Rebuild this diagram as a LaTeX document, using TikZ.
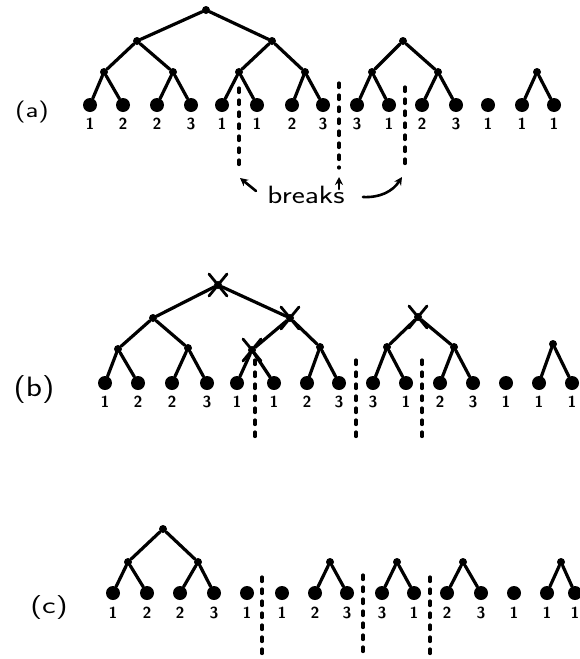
\documentclass[tikz,border=0pt]{standalone}
\usepackage{tikz}
\usetikzlibrary{arrows.meta}

\begin{document}
\begin{tikzpicture}[x=1pt, y=-1pt, line join=round, line cap=round,
	leaf/.style={circle, fill, inner sep=0pt, minimum size=14pt},
	knot/.style={circle, fill, inner sep=0pt, minimum size=8pt},
	branch/.style={line width=3.2pt},
	brk/.style={line width=3.2pt, dash pattern=on 4.5pt off 7.5pt},
	cut/.style={line width=2.8pt},
	arr/.style={line width=2.6pt, -{Stealth[length=8pt, width=8pt]}},
	num/.style={font=\sffamily\bfseries\fontsize{16}{16}\selectfont},
	tag/.style={font=\sffamily\fontsize{20}{20}\selectfont}]
	\useasboundingbox (0,0) rectangle (580,659);
	% (a) cay ban dau
	\node[tag, font=\sffamily\fontsize{22}{22}\selectfont, xscale=1.3] (ta) at (32,112) {(a)};
	\foreach \i/\x/\t in {0/90/1, 1/123/2, 2/157/2, 3/191/3, 4/222/1, 5/257/1, 6/292/2, 7/323/3,
		8/357/3, 9/389/1, 10/422/2, 11/456/3, 12/488/1, 13/522/1, 14/554/1}{
		\node[leaf] (a\i) at (\x,105) {};
		\node[num] (la\i) at (\x,124) {\t};
	}
	\foreach \n/\x/\y in {am0/104/72, am1/173/72, am2/239/72, am3/305/72, am4/372/72, am5/438/72,
		am6/537/72, an0/137/41, an1/272/41, an2/403/41, ar/206/10}
	\node[knot] (\n) at (\x,\y) {};
	\foreach \p/\c in {am0/a0, am0/a1, am1/a2, am1/a3, am2/a4, am2/a5, am3/a6, am3/a7, am4/a8, am4/a9,
		am5/a10, am5/a11, am6/a13, am6/a14, an0/am0, an0/am1, an1/am2, an1/am3, an2/am4, an2/am5,
		ar/an0, ar/an1}
	\draw[branch] (\p) -- (\c);
	% cac cho ngat va nhan "breaks"
	\path (239,88) coordinate (ka1) (239,170) coordinate (kb1)
	(339,83) coordinate (ka2) (339,168) coordinate (kb2)
	(405,87) coordinate (ka3) (405,168) coordinate (kb3);
	\foreach \k in {1,2,3}
	\draw[brk] (ka\k) -- (kb\k);
	\node[font=\sffamily\fontsize{25}{25}\selectfont, xscale=1.25] (word) at (306,195) {breaks};
	\path (256,191) coordinate (w1) (240,178) coordinate (h1)
	(339,189) coordinate (w2) (339,177) coordinate (h2)
	(363,197) coordinate (w3) (402,177) coordinate (h3);
	\draw[arr] (w1) -- (h1);
	\draw[arr] (w2) -- (h2);
	\draw[arr] (w3) to[bend right=30] (h3);
	% (b) cac nut bi cat
	\node[tag, font=\sffamily\fontsize{28}{28}\selectfont, xscale=1.2] (tb) at (34,390) {(b)};
	\foreach \i/\x/\t in {0/105/1, 1/138/2, 2/172/2, 3/207/3, 4/237/1, 5/274/1, 6/307/2, 7/339/3,
		8/373/3, 9/406/1, 10/440/2, 11/473/3, 12/506/1, 13/539/1, 14/572/1}{
		\node[leaf] (b\i) at (\x,383) {};
		\node[num] (lb\i) at (\x,402) {\t};
	}
	\foreach \n/\x/\y in {bm0/118/349, bm1/188/348, bm2/252/350, bm3/320/347, bm4/387/347, bm5/454/347,
		bm6/553/344, bn0/153/318, bn1/290/318, bn2/418/317, br/218/285}
	\node[knot] (\n) at (\x,\y) {};
	\foreach \p/\c in {bm0/b0, bm0/b1, bm1/b2, bm1/b3, bm2/b4, bm2/b5, bm3/b6, bm3/b7, bm4/b8, bm4/b9,
		bm5/b10, bm5/b11, bm6/b13, bm6/b14, bn0/bm0, bn0/bm1, bn1/bm2, bn1/bm3, bn2/bm4, bn2/bm5,
		br/bn0, br/bn1}
	\draw[branch] (\p) -- (\c);
	\foreach \n in {br, bn1, bm2, bn2}
	\draw[cut] ([shift={(-9,-11)}]\n.center) -- ([shift={(9,11)}]\n.center)
	([shift={(9,-11)}]\n.center) -- ([shift={(-9,11)}]\n.center);
	\path (255,360) coordinate (ma1) (255,443) coordinate (mb1)
	(356,360) coordinate (ma2) (356,442) coordinate (mb2)
	(422,360) coordinate (ma3) (422,440) coordinate (mb3);
	\foreach \k in {1,2,3}
	\draw[brk] (ma\k) -- (mb\k);
	% (c) ket qua sau khi cat
	\node[tag, font=\sffamily\fontsize{24}{24}\selectfont, xscale=1.35] (tc) at (49,608) {(c)};
	\foreach \i/\x/\t in {0/113/1, 1/147/2, 2/180/2, 3/214/3, 4/247/1, 5/282/1, 6/315/2, 7/347/3,
		8/382/3, 9/414/1, 10/447/2, 11/481/3, 12/514/1, 13/547/1, 14/575/1}{
		\node[leaf] (c\i) at (\x,593) {};
		\node[num] (lc\i) at (\x,613) {\t};
	}
	\foreach \n/\x/\y in {cm0/128/562, cm1/198/562, cm2/330/562, cm3/397/562, cm4/463/562,
		cm5/561/562, cr/163/529}
	\node[knot] (\n) at (\x,\y) {};
	\foreach \p/\c in {cm0/c0, cm0/c1, cm1/c2, cm1/c3, cm2/c6, cm2/c7, cm3/c8, cm3/c9,
		cm4/c10, cm4/c11, cm5/c13, cm5/c14, cr/cm0, cr/cm1}
	\draw[branch] (\p) -- (\c);
	\path (262,577) coordinate (na1) (262,655) coordinate (nb1)
	(363,575) coordinate (na2) (363,655) coordinate (nb2)
	(430,577) coordinate (na3) (430,655) coordinate (nb3);
	\foreach \k in {1,2,3}
	\draw[brk] (na\k) -- (nb\k);
\end{tikzpicture}
\end{document}
